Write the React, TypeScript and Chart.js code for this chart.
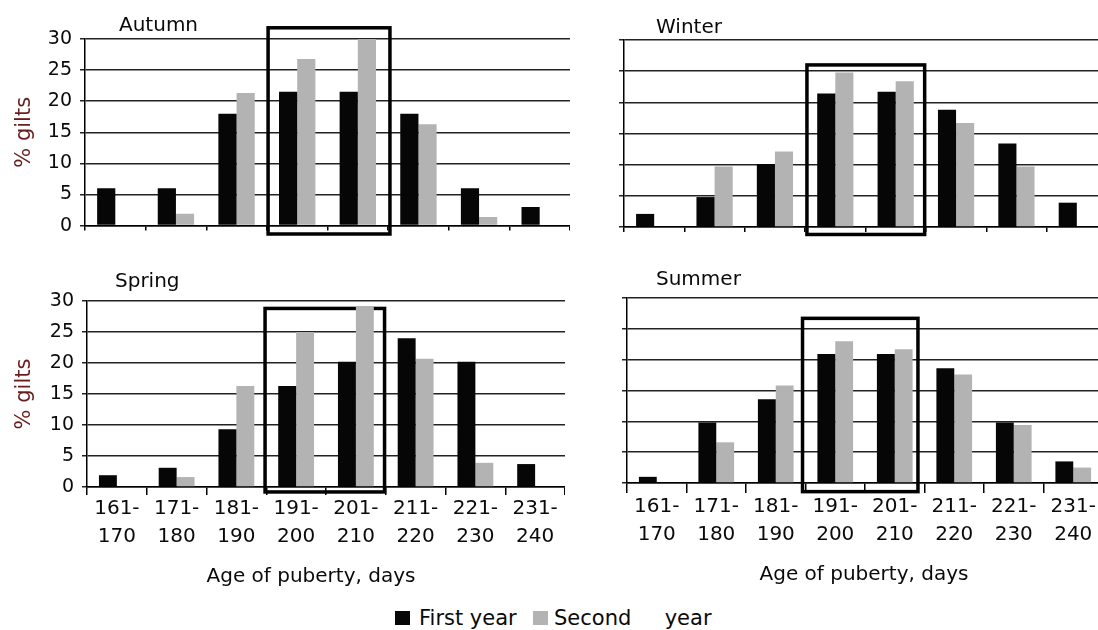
import React, { useEffect, useRef } from "react";
import { Chart, registerables } from "chart.js";

Chart.register(...registerables);
Chart.defaults.font.family = "'DejaVu Sans', Verdana, sans-serif";

// ---- data ----
const ageLabels: string[][] = [
  ["161-", "170"],
  ["171-", "180"],
  ["181-", "190"],
  ["191-", "200"],
  ["201-", "210"],
  ["211-", "220"],
  ["221-", "230"],
  ["231-", "240"],
];
const seriesNames = ["First year", "Second year"];

const autumnFirst = [6, 6, 18, 21.5, 21.5, 18, 6, 3];
const autumnSecond = [0, 1.9, 21.3, 26.8, 30, 16.3, 1.4, 0];
const winterFirst = [2.1, 4.8, 10.1, 21.4, 21.7, 18.8, 13.4, 3.9];
const winterSecond = [0, 9.7, 12.1, 24.8, 23.4, 16.7, 9.7, 0];
const springFirst = [1.9, 3.1, 9.3, 16.3, 20.2, 24.0, 20.2, 3.7];
const springSecond = [0, 1.6, 16.3, 25.0, 29.2, 20.7, 3.9, 0];
const summerFirst = [1.0, 9.8, 13.6, 20.9, 20.9, 18.6, 9.8, 3.5];
const summerSecond = [0, 6.6, 15.8, 23.0, 21.7, 17.6, 9.4, 2.5];

const yMin = 0;
const yMax = 30;
const yStep = 5;

const FIRST_COLOR = "#060606";
const SECOND_COLOR = "#b3b3b3";

interface Panel {
  title: string;
  first: number[];
  second: number[];
  left: number;
  top: number;
  width: number;
  height: number;
  padTop: number;
  yWidth: number;
  xHeight: number;
  showY: boolean;
  showX: boolean;
  tickLen: number;
  titleX: number;
  titleY: number;
  xTitle?: { x: number; y: number };
  box: { from: number; to: number; top: number; bottom: number };
}

const panels: Panel[] = [
  {
    title: "Autumn", first: autumnFirst, second: autumnSecond,
    left: 0, top: 0, width: 570, height: 245, padTop: 39, yWidth: 85, xHeight: 19,
    showY: true, showX: false, tickLen: 5, titleX: 119, titleY: 31,
    box: { from: 2.52, to: 4.53, top: 31.8, bottom: -1.35 },
  },
  {
    title: "Winter", first: winterFirst, second: winterSecond,
    left: 580, top: 0, width: 527, height: 245, padTop: 40, yWidth: 44, xHeight: 18,
    showY: false, showX: false, tickLen: 5, titleX: 76, titleY: 33,
    box: { from: 2.53, to: 4.48, top: 26.0, bottom: -1.2 },
  },
  {
    title: "Spring", first: springFirst, second: springSecond,
    left: 0, top: 262, width: 565, height: 330, padTop: 39, yWidth: 87, xHeight: 105,
    showY: true, showX: true, tickLen: 8, titleX: 115, titleY: 25,
    xTitle: { x: 311, y: 315 },
    box: { from: 2.48, to: 4.48, top: 28.8, bottom: -0.8 },
  },
  {
    title: "Summer", first: summerFirst, second: summerSecond,
    left: 580, top: 262, width: 523, height: 330, padTop: 36, yWidth: 47, xHeight: 109,
    showY: false, showX: true, tickLen: 10, titleX: 76, titleY: 23,
    xTitle: { x: 284, y: 313 },
    box: { from: 2.45, to: 4.39, top: 26.7, bottom: -1.4 },
  },
];

function PanelChart({ p }: { p: Panel }) {
  const ref = useRef<HTMLCanvasElement | null>(null);
  useEffect(() => {
    if (!ref.current) return;
    const boxPlugin = {
      id: "boxPlugin",
      beforeDatasetsDraw(chart: any) {
        const { ctx } = chart;
        const xs = chart.scales.x;
        const ys = chart.scales.y;
        const l = xs.getPixelForValue(p.box.from);
        const r = xs.getPixelForValue(p.box.to);
        const t = ys.getPixelForValue(p.box.top);
        const b = ys.getPixelForValue(p.box.bottom);
        ctx.save();
        ctx.strokeStyle = "#000";
        ctx.lineWidth = 3.5;
        ctx.strokeRect(l, t, r - l, b - t);
        ctx.restore();
      },
    };
    const textPlugin = {
      id: "textPlugin",
      afterDraw(chart: any) {
        const { ctx } = chart;
        ctx.save();
        ctx.fillStyle = "#0a0a0a";
        ctx.font = "20px 'DejaVu Sans'";
        ctx.textAlign = "left";
        ctx.textBaseline = "alphabetic";
        ctx.fillText(p.title, p.titleX, p.titleY);
        if (p.xTitle) {
          ctx.textAlign = "center";
          ctx.textBaseline = "middle";
          ctx.fillText("Age of puberty, days", p.xTitle.x, p.xTitle.y);
        }
        ctx.restore();
      },
    };
    const chart = new Chart(ref.current, {
      type: "bar",
      data: {
        labels: ageLabels,
        datasets: [
          { label: seriesNames[0], data: p.first, backgroundColor: FIRST_COLOR, borderWidth: 0 },
          { label: seriesNames[1], data: p.second, backgroundColor: SECOND_COLOR, borderWidth: 0 },
        ],
      },
      options: {
        animation: false,
        responsive: false,
        devicePixelRatio: 1,
        layout: { padding: { top: p.padTop, left: 0, right: 0, bottom: 0 } },
        datasets: { bar: { categoryPercentage: 0.6, barPercentage: 1.0 } },
        plugins: { legend: { display: false }, tooltip: { enabled: false }, title: { display: false } },
        scales: {
          x: {
            type: "category",
            offset: true,
            afterFit: (s: any) => { s.height = p.xHeight; },
            grid: { offset: true, drawOnChartArea: false, drawTicks: true, tickLength: p.tickLen, color: "#000", lineWidth: 1.5 },
            border: { display: true, color: "#000", width: 1.5 },
            ticks: {
              display: p.showX, autoSkip: false, maxRotation: 0, minRotation: 0, padding: 0,
              color: "#0a0a0a", font: { size: 20, lineHeight: 1.4 },
            },
          },
          y: {
            min: yMin, max: yMax,
            afterFit: (s: any) => { s.width = p.yWidth; },
            grid: { color: "#222", lineWidth: 1.5, drawTicks: true, tickLength: 5 },
            border: { display: true, color: "#000", width: 1.5 },
            ticks: { display: p.showY, stepSize: yStep, padding: 8, color: "#0a0a0a", font: { size: 19 } },
            title: {
              display: p.showY, text: "% gilts", color: "#6a1c1c",
              font: { size: 21 }, padding: { top: 12, bottom: 0 },
            },
          },
        },
      },
      plugins: [boxPlugin, textPlugin],
    });
    return () => chart.destroy();
  }, [p]);
  return (
    <canvas
      ref={ref}
      width={p.width}
      height={p.height}
      style={{ position: "absolute", left: p.left, top: p.top, width: p.width, height: p.height }}
    />
  );
}

export default function App() {
  const legendText: React.CSSProperties = {
    position: "absolute", top: 606, fontFamily: "'DejaVu Sans', sans-serif", fontSize: 21,
    lineHeight: "24px", color: "#0a0a0a", whiteSpace: "pre",
  };
  return (
    <div style={{ position: "fixed", left: 0, top: 0, width: 1098, height: 630, overflow: "hidden", background: "#fff" }}>
      {panels.map((p) => <PanelChart key={p.title} p={p} />)}
      <div style={{ position: "absolute", left: 395, top: 611, width: 15, height: 14, background: FIRST_COLOR }} />
      <div style={{ ...legendText, left: 419 }}>{seriesNames[0]}</div>
      <div style={{ position: "absolute", left: 533, top: 611, width: 15, height: 14, background: SECOND_COLOR }} />
      <div style={{ ...legendText, left: 554 }}>{"Second     year"}</div>
    </div>
  );
}
